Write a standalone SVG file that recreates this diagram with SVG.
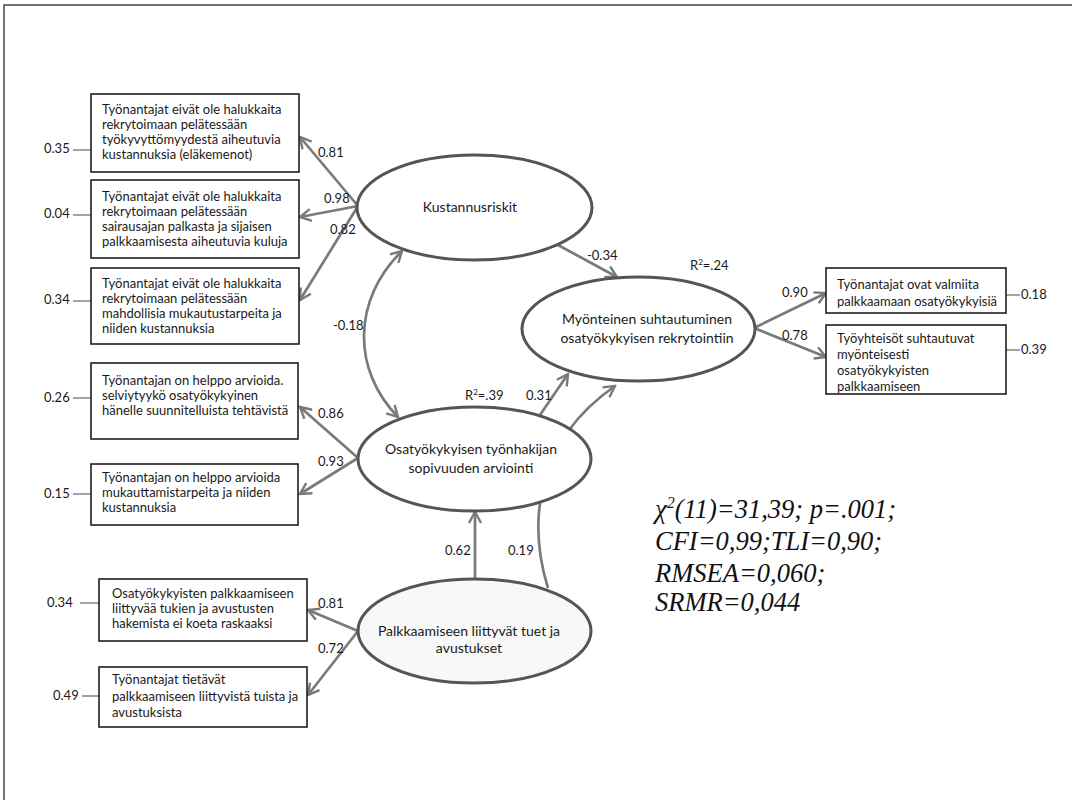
<svg xmlns="http://www.w3.org/2000/svg" width="1072" height="800" viewBox="0 0 1072 800">
<defs>
<style>
.box{fill:#fff;stroke:#111;stroke-width:1.5}
.ell{fill:#fff;stroke:#555;stroke-width:3}
.t{font-family:Lato,"Liberation Sans",sans-serif;font-size:13px;fill:#1a1a1a}
.tm{font-family:Lato,"Liberation Sans",sans-serif;font-size:14px;fill:#1a1a1a;text-anchor:middle}
.lab{font-family:Lato,"Liberation Sans",sans-serif;font-size:13px;fill:#1a1a1a}
.arr{fill:none;stroke:#7a7a7a;stroke-width:2.7;marker-end:url(#ah)}
.dbl{fill:none;stroke:#7a7a7a;stroke-width:2.7;marker-end:url(#ah);marker-start:url(#ah)}
.res{stroke:#666;stroke-width:1.2}
.stat{font-family:"Liberation Serif","Times New Roman",serif;font-style:italic;font-size:26.5px;fill:#111}
</style>
<marker id="ah" viewBox="0 0 14 14" refX="12" refY="7" markerWidth="14" markerHeight="14" markerUnits="userSpaceOnUse" orient="auto-start-reverse">
<path d="M1,1 L12,7 L1,13" fill="none" stroke="#7a7a7a" stroke-width="2.4"/>
</marker>
</defs>
<rect width="1072" height="800" fill="#fff"/>
<path d="M4,800 V5 H1072" fill="none" stroke="#444" stroke-width="1.5"/>

<g id="connectors">
<line class="arr" x1="358" y1="206" x2="300" y2="137"/>
<line class="arr" x1="358" y1="206" x2="300" y2="217"/>
<line class="arr" x1="358" y1="206" x2="300" y2="300"/>
<line class="arr" x1="558" y1="245" x2="617" y2="277"/>
<path class="dbl" d="M402,251 C352,300 352,370 398,417"/>
<line class="arr" x1="358" y1="458" x2="300" y2="407"/>
<line class="arr" x1="358" y1="458" x2="300" y2="494"/>
<line class="arr" x1="540" y1="415" x2="568" y2="374"/>
<path class="arr" d="M548,588 C530,530 530,445 615,386"/>
<line class="arr" x1="475" y1="580" x2="475" y2="512"/>
<line class="arr" x1="358" y1="631" x2="308" y2="610"/>
<line class="arr" x1="358" y1="631" x2="308" y2="695"/>
<line class="arr" x1="754" y1="328" x2="826" y2="293"/>
<line class="arr" x1="754" y1="328" x2="826" y2="357"/>
<line class="res" x1="73" y1="150" x2="91" y2="150"/>
<line class="res" x1="73" y1="215" x2="91" y2="215"/>
<line class="res" x1="73" y1="301" x2="91" y2="301"/>
<line class="res" x1="73" y1="398" x2="91" y2="398"/>
<line class="res" x1="73" y1="494" x2="91" y2="494"/>
<line class="res" x1="80" y1="603" x2="99" y2="603"/>
<line class="res" x1="82" y1="696" x2="99" y2="696"/>
<line class="res" x1="1006" y1="295" x2="1020" y2="295"/>
<line class="res" x1="1006" y1="350" x2="1020" y2="350"/>
<text class="lab" x="318" y="157">0.81</text>
<text class="lab" x="324" y="203">0.98</text>
<text class="lab" x="330" y="234">0.82</text>
<text class="lab" x="587" y="260">-0.34</text>
<text class="lab" x="333" y="330">-0.18</text>
<text class="lab" x="318" y="418">0.86</text>
<text class="lab" x="318" y="466">0.93</text>
<text class="lab" x="526" y="400">0.31</text>
<text class="lab" x="445" y="555">0.62</text>
<text class="lab" x="508" y="555">0.19</text>
<text class="lab" x="318" y="608">0.81</text>
<text class="lab" x="318" y="653">0.72</text>
<text class="lab" x="782" y="297">0.90</text>
<text class="lab" x="782" y="340">0.78</text>
<text class="lab" x="690" y="270">R<tspan font-size="8" dy="-5">2</tspan><tspan dy="5">=.24</tspan></text>
<text class="lab" x="465" y="400">R<tspan font-size="8" dy="-5">2</tspan><tspan dy="5">=.39</tspan></text>
<text class="lab" x="44" y="153">0.35</text>
<text class="lab" x="44" y="218">0.04</text>
<text class="lab" x="44" y="304">0.34</text>
<text class="lab" x="44" y="402">0.26</text>
<text class="lab" x="44" y="498">0.15</text>
<text class="lab" x="47" y="607">0.34</text>
<text class="lab" x="53" y="700">0.49</text>
<text class="lab" x="1021" y="299">0.18</text>
<text class="lab" x="1021" y="354">0.39</text>
</g>

<g id="box1"><rect class="box" x="91" y="94" width="208" height="78"/>
<text class="t" x="102" y="114">Työnantajat eivät ole halukkaita</text>
<text class="t" x="102" y="129">rekrytoimaan pelätessään</text>
<text class="t" x="102" y="144">työkyvyttömyydestä aiheutuvia</text>
<text class="t" x="102" y="159">kustannuksia (eläkemenot)</text></g>

<g id="box2"><rect class="box" x="91" y="180" width="208" height="78"/>
<text class="t" x="102" y="201">Työnantajat eivät ole halukkaita</text>
<text class="t" x="102" y="216">rekrytoimaan pelätessään</text>
<text class="t" x="102" y="231">sairausajan palkasta ja sijaisen</text>
<text class="t" x="102" y="246">palkkaamisesta aiheutuvia kuluja</text></g>

<g id="box3"><rect class="box" x="91" y="268" width="208" height="76"/>
<text class="t" x="102" y="288">Työnantajat eivät ole halukkaita</text>
<text class="t" x="102" y="303">rekrytoimaan pelätessään</text>
<text class="t" x="102" y="318">mahdollisia mukautustarpeita ja</text>
<text class="t" x="102" y="333">niiden kustannuksia</text></g>

<g id="box4"><rect class="box" x="91" y="363" width="207" height="76"/>
<text class="t" x="102" y="385">Työnantajan on helppo arvioida.</text>
<text class="t" x="102" y="400">selviytyykö osatyökykyinen</text>
<text class="t" x="102" y="415">hänelle suunnitelluista tehtävistä</text></g>

<g id="box5"><rect class="box" x="91" y="464" width="207" height="61"/>
<text class="t" x="102" y="482">Työnantajan on helppo arvioida</text>
<text class="t" x="102" y="497">mukauttamistarpeita ja niiden</text>
<text class="t" x="102" y="512">kustannuksia</text></g>

<g id="box6"><rect class="box" x="99" y="579" width="208" height="62"/>
<text class="t" x="112" y="598">Osatyökykyisten palkkaamiseen</text>
<text class="t" x="112" y="613">liittyvää tukien ja avustusten</text>
<text class="t" x="112" y="628">hakemista ei koeta raskaaksi</text></g>

<g id="box7"><rect class="box" x="99" y="667" width="208" height="60"/>
<text class="t" x="112" y="684">Työnantajat tietävät</text>
<text class="t" x="112" y="701">palkkaamiseen liittyvistä tuista ja</text>
<text class="t" x="112" y="717">avustuksista</text></g>

<g id="boxR1"><rect class="box" x="826" y="268" width="180" height="45"/>
<text class="t" x="837" y="289">Työnantajat ovat valmiita</text>
<text class="t" x="837" y="306">palkkaamaan osatyökykyisiä</text></g>

<g id="boxR2"><rect class="box" x="826" y="325" width="180" height="69"/>
<text class="t" x="837" y="343">Työyhteisöt suhtautuvat</text>
<text class="t" x="837" y="359">myönteisesti</text>
<text class="t" x="837" y="375">osatyökykyisten</text>
<text class="t" x="837" y="391">palkkaamiseen</text></g>

<g id="kustannusriskit"><ellipse class="ell" cx="474.5" cy="207.5" rx="117.5" ry="52.5"/>
<text class="tm" x="470" y="212">Kustannusriskit</text></g>

<g id="myonteinen"><ellipse class="ell" cx="638.5" cy="329" rx="116.5" ry="52"/>
<text class="tm" x="647" y="324">Myönteinen suhtautuminen</text>
<text class="tm" x="647" y="343">osatyökykyisen rekrytointiin</text></g>

<g id="sopivuus"><ellipse class="ell" cx="474.5" cy="459" rx="116.5" ry="52"/>
<text class="tm" x="471" y="454">Osatyökykyisen työnhakijan</text>
<text class="tm" x="471" y="473">sopivuuden arviointi</text></g>

<g id="tuet"><ellipse class="ell" cx="474.5" cy="631" rx="116.5" ry="52" style="fill:#f8f8f8"/>
<text class="tm" x="469" y="636">Palkkaamiseen liittyvät tuet ja</text>
<text class="tm" x="469" y="653">avustukset</text></g>

<g id="stats">
<text class="stat" x="655" y="518">χ<tspan font-size="16" dy="-10">2</tspan><tspan dy="10">(11)=31,39; p=.001;</tspan></text>
<text class="stat" x="655" y="550">CFI=0,99;TLI=0,90;</text>
<text class="stat" x="655" y="582">RMSEA=0,060;</text>
<text class="stat" x="655" y="611">SRMR=0,044</text>
</g>
</svg>
